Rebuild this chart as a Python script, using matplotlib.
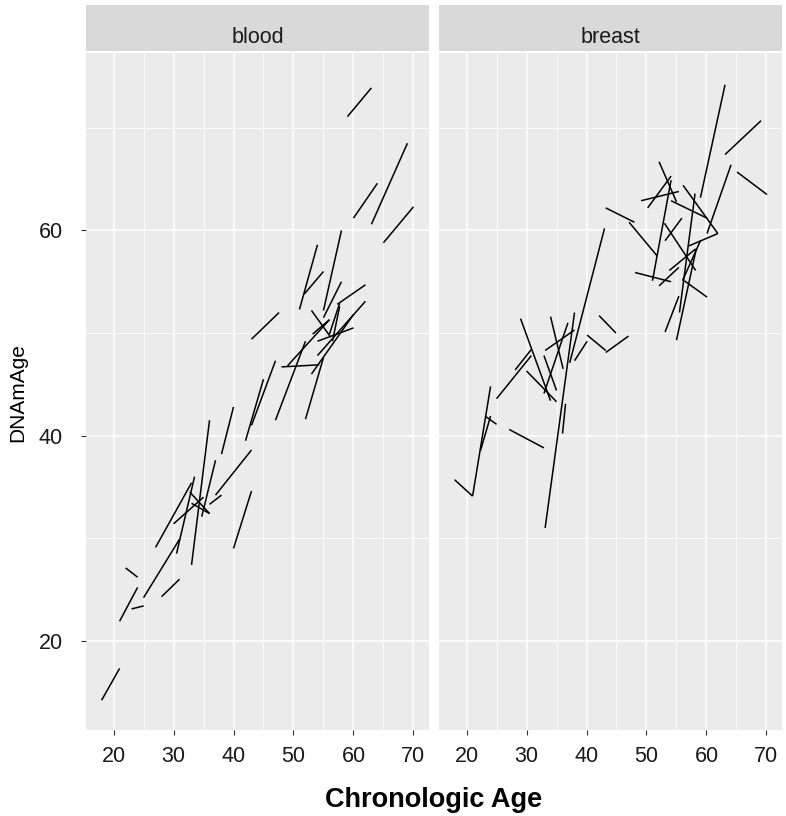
import pandas as pd
import matplotlib
matplotlib.use("Agg")
import matplotlib.pyplot as plt
from matplotlib.ticker import MultipleLocator

plt.rcParams['font.family'] = ['Liberation Sans', 'DejaVu Sans']

# blood: age at visit 1 / visit 2 and DNAm age at visit 1 / visit 2
blood_age1 = [18.0, 21.0, 22.0, 23.0, 25.0, 28.0, 27.0, 30.0, 30.5, 33.0,
              34.7, 37.0, 36.0, 38.0, 40.0, 42.0, 43.0, 43.0, 32.7, 33.0,
              47.0, 52.0, 51.0, 51.8, 55.0, 53.0, 55.0, 57.3, 54.0, 54.0,
              48.0, 49.0, 53.0, 57.7, 65.0, 59.0, 60.0, 63.0, 53.2, 56.0]
blood_age2 = [21.0, 24.0, 24.0, 25.0, 31.0, 31.0, 33.0, 35.0, 33.5, 36.0,
              37.0, 43.0, 38.0, 40.0, 43.0, 45.0, 47.0, 47.6, 36.0, 36.0,
              52.0, 55.0, 54.0, 55.0, 58.0, 56.2, 58.0, 62.0, 62.0, 60.0,
              54.3, 56.0, 60.0, 56.5, 70.0, 63.0, 64.0, 69.0, 56.0, 57.7]
blood_dnam1 = [14.2, 21.9, 27.1, 23.1, 24.2, 24.3, 29.1, 31.4, 28.5, 27.4,
               32.1, 34.2, 33.3, 38.2, 29.0, 39.5, 41.0, 49.4, 34.5, 33.4,
               41.5, 41.6, 52.3, 53.8, 52.2, 52.2, 51.5, 52.8, 47.8, 49.2,
               46.7, 46.8, 46.0, 52.6, 58.8, 71.1, 61.2, 60.6, 49.9, 49.9]
blood_dnam2 = [17.3, 25.2, 26.2, 23.4, 29.9, 26.0, 35.4, 34.0, 36.0, 41.5,
               37.6, 38.6, 34.2, 42.8, 34.6, 45.5, 47.3, 52.0, 32.4, 32.4,
               49.2, 47.6, 58.6, 56.0, 60.0, 49.6, 55.0, 54.7, 53.1, 50.5,
               46.9, 51.3, 51.8, 49.2, 62.3, 73.9, 64.6, 68.5, 51.3, 52.9]

# breast
breast_age1 = [18.0, 21.0, 22.3, 23.1, 25.0, 27.1, 33.1, 37.2, 28.1, 29.0,
               30.0, 32.9, 32.9, 34.0, 33.1, 38.0, 40.1, 42.1, 43.2, 43.2,
               47.1, 48.1, 51.0, 49.1, 50.2, 52.1, 53.1, 59.0, 63.1, 65.1,
               60.1, 52.1, 54.1, 56.1, 57.1, 55.5, 53.0, 53.1, 53.8, 56.0,
               55.0, 56.3, 36.0]
breast_age2 = [21.0, 24.0, 24.0, 25.0, 30.8, 32.9, 38.0, 43.0, 30.8, 34.0,
               35.0, 35.0, 36.9, 36.1, 38.0, 40.1, 43.2, 44.9, 47.0, 48.0,
               51.8, 54.1, 54.1, 55.4, 54.1, 55.4, 55.4, 63.1, 69.1, 70.1,
               64.1, 55.0, 60.1, 61.9, 61.9, 58.1, 58.2, 55.9, 58.2, 59.0,
               58.3, 60.1, 36.5]
breast_dnam1 = [35.7, 34.1, 38.5, 41.9, 43.6, 40.6, 31.0, 47.1, 46.4, 51.4,
                46.3, 47.8, 44.1, 51.6, 48.3, 47.3, 49.8, 51.7, 48.1, 62.2,
                60.8, 55.9, 55.1, 62.9, 62.2, 54.6, 50.1, 63.2, 67.4, 65.7,
                59.7, 66.7, 62.9, 64.4, 58.5, 52.0, 60.7, 59.0, 56.1, 55.1,
                49.3, 55.1, 40.2]
breast_dnam2 = [34.1, 44.8, 41.9, 41.1, 47.8, 38.8, 52.0, 60.2, 48.4, 43.4,
                43.3, 44.4, 51.0, 46.5, 50.3, 49.2, 48.3, 50.0, 49.7, 60.8,
                57.5, 55.0, 64.9, 63.8, 65.3, 56.4, 53.6, 74.2, 70.7, 63.5,
                66.4, 62.8, 61.2, 59.7, 59.7, 63.6, 56.1, 61.2, 58.2, 59.0,
                58.2, 53.5, 43.1]

df = pd.concat([
    pd.DataFrame({"tissue": "blood", "age1": blood_age1, "age2": blood_age2,
                  "dnam1": blood_dnam1, "dnam2": blood_dnam2}),
    pd.DataFrame({"tissue": "breast", "age1": breast_age1, "age2": breast_age2,
                  "dnam1": breast_dnam1, "dnam2": breast_dnam2}),
])

fig = plt.figure(figsize=(7.86, 8.16), dpi=100)
W, H = 786, 816
panel_x = [86, 439]
panel_w = 343
top, bottom = 53, 730

for i, tissue in enumerate(["blood", "breast"]):
    ax = fig.add_axes([panel_x[i] / W, (H - bottom) / H, panel_w / W, (bottom - top) / H])
    ax.set_facecolor("#EBEBEB")
    for s in ax.spines.values():
        s.set_visible(False)
    ax.set_xlim(15.4, 72.6)
    ax.set_ylim(11.3, 77.3)
    ax.xaxis.set_major_locator(MultipleLocator(10))
    ax.xaxis.set_minor_locator(MultipleLocator(5))
    ax.yaxis.set_major_locator(MultipleLocator(20))
    ax.yaxis.set_minor_locator(MultipleLocator(10))
    ax.grid(which="major", color="white", lw=1.1)
    ax.grid(which="minor", color="white", lw=0.55)
    ax.set_axisbelow(True)
    ax.tick_params(which="major", length=3.5, width=0.8, color="#333333",
                   labelsize=15.5, labelcolor="#1a1a1a")
    ax.tick_params(axis="x", pad=8)
    ax.tick_params(axis="y", pad=13)
    ax.tick_params(which="minor", length=0)
    if i == 1:
        ax.tick_params(axis="y", which="both", left=False, labelleft=False)

    sub = df[df.tissue == tissue]
    for _, r in sub.iterrows():
        ax.plot([r.age1, r.age2], [r.dnam1, r.dnam2], color="black", lw=1.1,
                solid_capstyle="butt")

    # facet strip
    sax = fig.add_axes([panel_x[i] / W, (H - 51) / H, panel_w / W, 46 / H])
    sax.set_facecolor("#D9D9D9")
    sax.set_xticks([])
    sax.set_yticks([])
    for s in sax.spines.values():
        s.set_visible(False)
    sax.text(0.5, 0.18, tissue, ha="center", va="baseline", fontsize=15.5, color="#1a1a1a")

fig.text(434 / W, 1 - 800 / H, "Chronologic Age", ha="center", va="center",
         fontsize=19.5, fontweight="bold")
fig.text(18 / W, 1 - 393 / H, "DNAmAge", ha="center", va="center",
         rotation=90, fontsize=15)

fig.savefig("out.png", dpi=100)
